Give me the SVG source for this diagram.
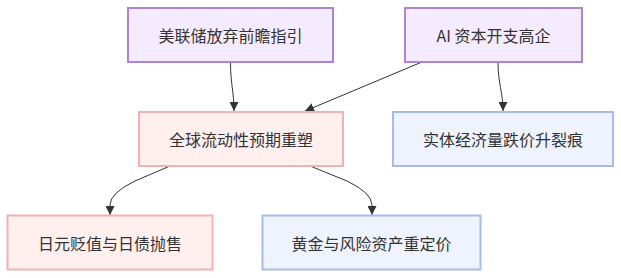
<svg xmlns="http://www.w3.org/2000/svg" width="621" height="278" viewBox="0 0 621 278">
<style>
.bg{fill:#ffffff}
.purple rect{fill:#f5ebff;stroke:#ab83da;stroke-width:2}
.pink rect{fill:#ffefef;stroke:#f2b2b2;stroke-width:2}
.blue rect{fill:#eef3ff;stroke:#a8bbe8;stroke-width:2}
text{font-family:"Noto Sans CJK SC","Liberation Sans",sans-serif;font-size:16px;fill:#333333;text-anchor:middle;dominant-baseline:central}
.edge{fill:none;stroke:#333333;stroke-width:1}
</style>
<defs>
<marker id="arrow" viewBox="0 0 10 10" refX="10" refY="5" markerWidth="9" markerHeight="9" markerUnits="userSpaceOnUse" orient="auto">
<path d="M0,0 L10,5 L0,10 z" fill="#333333"/>
</marker>
</defs>
<rect class="bg" x="0" y="0" width="621" height="278"/>
<g id="connectors">
<path class="edge" d="M230.5,62 C230.5,84 234,92 234,111" marker-end="url(#arrow)"/>
<path class="edge" d="M422,62 L305,111" marker-end="url(#arrow)"/>
<path class="edge" d="M498,62 C498,84 503,92 503,111" marker-end="url(#arrow)"/>
<path class="edge" d="M170,166 L135,181 Q110,193 110,205 L110,215" marker-end="url(#arrow)"/>
<path class="edge" d="M310,166 L347,181 Q372,193 372,205 L372,215" marker-end="url(#arrow)"/>
</g>
<g id="n1" class="purple"><rect x="128" y="8" width="205" height="54"/><text x="230.5" y="35">美联储放弃前瞻指引</text></g>
<g id="n2" class="purple"><rect x="405" y="8" width="177" height="54"/><text x="493.5" y="35">AI 资本开支高企</text></g>
<g id="n3" class="pink"><rect x="139" y="112" width="204" height="54"/><text x="241" y="139">全球流动性预期重塑</text></g>
<g id="n4" class="blue"><rect x="393" y="112" width="220" height="54"/><text x="503" y="139">实体经济量跌价升裂痕</text></g>
<g id="n5" class="pink"><rect x="7.5" y="215.5" width="205" height="54"/><text x="110" y="242.5">日元贬值与日债抛售</text></g>
<g id="n6" class="blue"><rect x="262.5" y="215.5" width="218" height="54"/><text x="371.5" y="242.5">黄金与风险资产重定价</text></g>
</svg>
